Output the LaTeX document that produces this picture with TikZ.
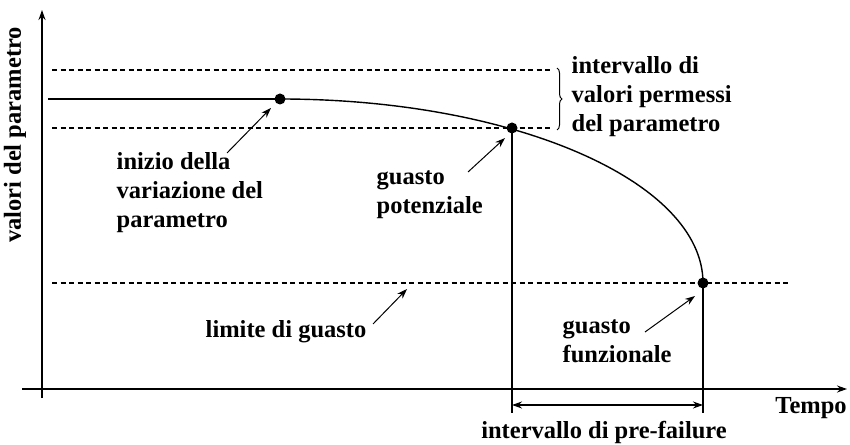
\documentclass[tikz,border=0pt]{standalone}
\usepackage{fontspec}
\setmainfont{Liberation Serif}
\usetikzlibrary{arrows.meta,decorations.pathreplacing}
\begin{document}
\begin{tikzpicture}[x=1pt,y=1pt,
  line width=1.4pt,
  lbl/.style={font=\fontsize{24.5}{29}\selectfont\bfseries, inner sep=0pt, align=left},
  dotn/.style={circle, fill=black, inner sep=0pt, minimum size=11pt},
  dsh/.style={dash pattern=on 5pt off 3.5pt, line width=1.1pt},
  ann/.style={-{Stealth[length=10pt,width=7pt]}, line width=1pt},
  axis/.style={-{Stealth[length=10pt,width=7pt]}, line width=1.4pt}]
\useasboundingbox (0,0) rectangle (850,444);
% axes
\coordinate (yb) at (42,46); \coordinate (yt) at (42,434);
\coordinate (xl) at (22,55); \coordinate (xr) at (847,55);
\draw[axis] (yb) -- (yt);
\draw[axis] (xl) -- (xr);
% dashed lines
\coordinate (t1) at (52,374); \coordinate (t2) at (552,374);
\coordinate (b1) at (52,316); \coordinate (b2) at (552,316);
\coordinate (l1) at (52,161); \coordinate (l2) at (790,161);
\draw[dsh] (t1) -- (t2);
\draw[dsh] (b1) -- (b2);
\draw[dsh] (l1) -- (l2);
% curve
\coordinate (s0) at (48,345);
\node[dotn] (d1) at (280,345) {};
\node[dotn] (d2) at (512,316) {};
\node[dotn] (d3) at (703,161) {};
\draw (s0) -- (d1.center);
\draw (d1.center) arc[start angle=90, end angle=0, x radius=423, y radius=184];
% verticals
\coordinate (v2) at (512,31); \coordinate (v3) at (703,31);
\draw[line width=1.1pt] (d2.center) -- (v2);
\draw[line width=1.1pt] (d3.center) -- (v3);
\coordinate (p1) at (512,39); \coordinate (p2) at (703,39);
\draw[{Stealth[length=10pt,width=7pt]}-{Stealth[length=10pt,width=7pt]}, line width=1.1pt] (p1) -- (p2);
% brace
\coordinate (bt) at (557,376); \coordinate (bb) at (557,314);
\draw[line width=1pt, decorate, decoration={brace, amplitude=5pt}] (bt) -- (bb);
% labels
\node[lbl, anchor=west] (perm) at (571,347) {intervallo di\\valori permessi\\del parametro};
\node[lbl, anchor=west] (iniz) at (116,251) {inizio della\\variazione del\\parametro};
\node[lbl, anchor=west] (pot) at (376,249) {guasto\\potenziale};
\node[lbl] (lim) at (286,112) {limite di guasto};
\node[lbl, anchor=west] (fun) at (562,103) {guasto\\funzionale};
\node[lbl] (pre) at (604,12) {intervallo di pre-failure};
\node[lbl] (tempo) at (811,36) {Tempo};
\node[lbl, rotate=90] (vp) at (15,309) {valori del parametro};
% annotation arrows
\coordinate (a1t) at (227,291); \coordinate (a1h) at (271,336);
\coordinate (a2t) at (468,272); \coordinate (a2h) at (505,306);
\coordinate (a3t) at (373,120); \coordinate (a3h) at (407,155);
\coordinate (a4t) at (645,112); \coordinate (a4h) at (695,148);
\draw[ann] (a1t) -- (a1h);
\draw[ann] (a2t) -- (a2h);
\draw[ann] (a3t) -- (a3h);
\draw[ann] (a4t) -- (a4h);
\end{tikzpicture}
\end{document}
